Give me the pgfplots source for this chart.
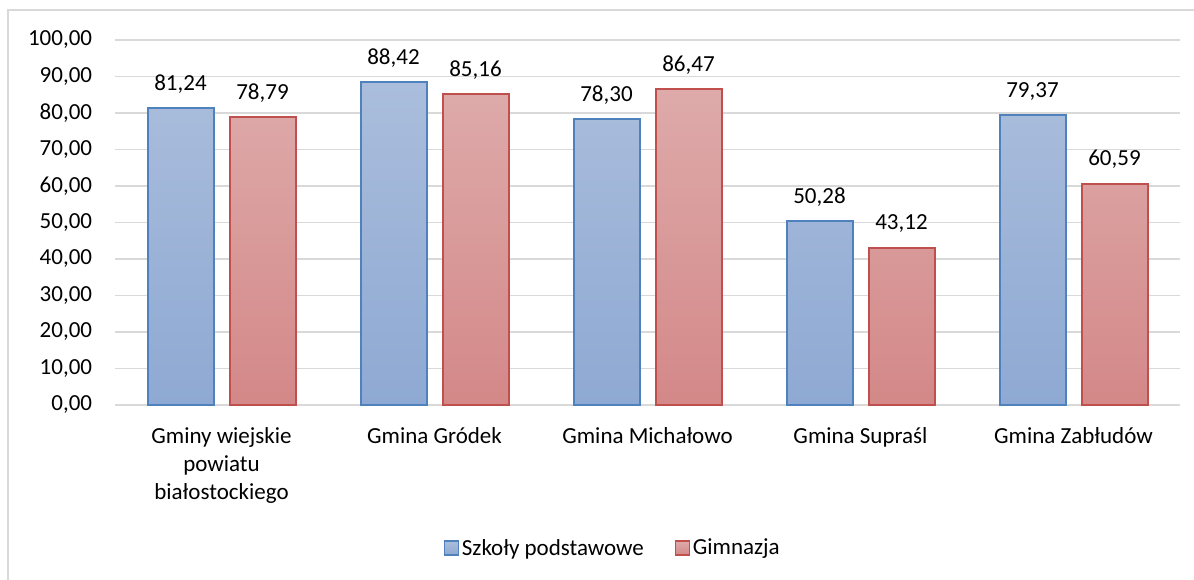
\documentclass[border=0pt]{standalone}
\usepackage{pgfplots}
\pgfplotsset{compat=1.18}
\usepackage{fontspec}
\setmainfont{Carlito}
\definecolor{bTop}{HTML}{AABDDC}
\definecolor{bBot}{HTML}{8EA9D3}
\definecolor{bLine}{HTML}{4F81BD}
\definecolor{rTop}{HTML}{DEAAAA}
\definecolor{rBot}{HTML}{D48888}
\definecolor{rLine}{HTML}{C0504D}
\definecolor{gridc}{HTML}{D9D9D9}
\newcommand{\cf}{\fontsize{17.25pt}{21.2pt}\selectfont}
\begin{document}
\begin{tikzpicture}
\useasboundingbox (0pt,0pt) rectangle (895.5pt,434.25pt);
\draw[gridc, line width=0.9pt] (6pt,426.75pt) rectangle (920pt,-20pt);
\begin{axis}[
  at={(86.25pt,130.5pt)}, anchor=south west,
  scale only axis, width=798.75pt, height=273.75pt,
  ybar=12pt, bar width=49.5pt,
  xmin=-0.5, xmax=4.5, ymin=0, ymax=100,
  ytick={0,10,...,100},
  xtick=data,
  xticklabels={{Gminy wiejskie\\powiatu\\białostockiego}, Gmina Gródek, Gmina Michałowo, Gmina Supraśl, Gmina Zabłudów},
  axis line style={draw=none},
  major tick length=0pt,
  ymajorgrids, grid style={gridc, line width=0.9pt},
  /pgf/number format/.cd, fixed, fixed zerofill, precision=2, use comma, 1000 sep={}, assume math mode=true,
  /pgfplots/.cd,
  yticklabel style={font=\cf, anchor=east, inner sep=0pt, xshift=-17pt},
  xticklabel style={font=\cf, align=center, anchor=north, inner sep=0pt, yshift=-16.5pt},
  nodes near coords,
  every node near coord/.append style={font=\cf, anchor=base, inner sep=0pt, yshift=13.5pt, text=black},
  legend style={at={(0.4676,-0.392)}, anchor=center, draw=none, fill=none, legend columns=-1, font=\cf,
    /tikz/every even column/.append style={column sep=21pt}},
  legend image code/.code={\draw[#1, line width=1.2pt] (0pt,-5.25pt) rectangle (10.5pt,5.25pt);},
  clip=false,
]
\addplot[draw=bLine, line width=1.5pt, top color=bTop, bottom color=bBot] coordinates {(0,81.24) (1,88.42) (2,78.30) (3,50.28) (4,79.37)};
\addplot[draw=rLine, line width=1.5pt, top color=rTop, bottom color=rBot] coordinates {(0,78.79) (1,85.16) (2,86.47) (3,43.12) (4,60.59)};
\legend{Szkoły podstawowe, Gimnazja}
\end{axis}
\end{tikzpicture}
\end{document}
